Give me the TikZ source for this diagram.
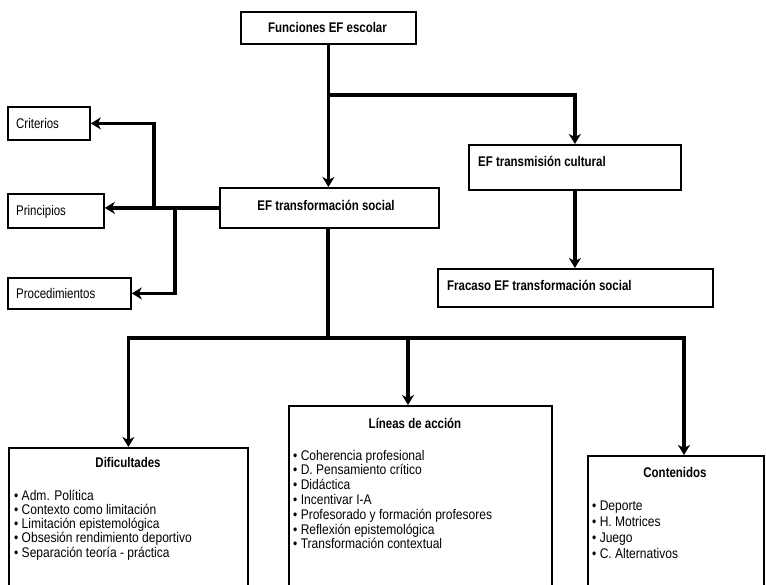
\documentclass[tikz,border=0pt]{standalone}
\usepackage{fontspec}
\setmainfont{Liberation Sans}[FakeStretch=0.82]
\newfontfamily\itemfont{Liberation Sans}[FakeStretch=0.86]
\usetikzlibrary{arrows.meta,calc}
\begin{document}
\begin{tikzpicture}[x=1pt,y=-1pt,
  every node/.style={font=\fontsize{14}{16}\selectfont},
  box/.style={draw=black,line width=1.8pt,fill=white,anchor=north west,inner sep=0pt},
  conn/.style={draw=black,line width=3.2pt,-{Stealth[length=10pt,width=12pt,inset=3pt]}},
  plain/.style={draw=black,line width=3.2pt},
  lbl/.style={inner sep=0pt,anchor=base west},
  itm/.style={inner sep=0pt,anchor=base west,font=\itemfont\fontsize{14}{16}\selectfont},
  ttl/.style={inner sep=0pt,anchor=base,font=\fontsize{14}{16}\selectfont\bfseries}]
\useasboundingbox (0,0) rectangle (766,584);
\clip (0,0) rectangle (766,584);

% boxes
\node[box,minimum width=175pt,minimum height=32pt] (fun) at (240,11) {};
\node[ttl] (funt) at (327.5,32) {Funciones EF escolar};

\node[box,minimum width=219pt,minimum height=40pt] (ets) at (219,187) {};
\node[ttl] (etst) at (326,210) {EF transformación social};

\node[box,minimum width=82pt,minimum height=33pt] (cri) at (7,106) {};
\node[lbl] (crit) at (16,128) {Criterios};
\node[box,minimum width=96pt,minimum height=34pt] (pri) at (7,193) {};
\node[lbl] (prit) at (16,215) {Principios};
\node[box,minimum width=123pt,minimum height=31pt] (pro) at (7,277) {};
\node[lbl] (prot) at (16,298) {Procedimientos};

\node[box,minimum width=212pt,minimum height=45pt] (tc) at (468,144) {};
\node[ttl,anchor=base west] (tct) at (478,166) {EF transmisión cultural};
\node[box,minimum width=275pt,minimum height=38pt] (fr) at (437,268) {};
\node[ttl,anchor=base west] (frt) at (447,290) {Fracaso EF transformación social};

\node[box,minimum width=239pt,minimum height=200pt] (dif) at (8,447) {};
\node[ttl] (dift) at (128,467.5) {Dificultades};
\foreach \t [count=\i] in {Adm. Política,Contexto como limitación,Limitación epistemológica,Obsesión rendimiento deportivo,Separación teoría - práctica}
  \node[itm] (d\i) at (14,{500+(\i-1)*14.3}) {• \t};

\node[box,minimum width=263pt,minimum height=220pt] (lin) at (288,405) {};
\node[ttl] (lint) at (415,428.5) {Líneas de acción};
\foreach \t [count=\i] in {Coherencia profesional,D. Pensamiento crítico,Didáctica,Incentivar I-A,Profesorado y formación profesores,Reflexión epistemológica,Transformación contextual}
  \node[itm] (l\i) at (293,{460+(\i-1)*14.8}) {• \t};

\node[box,minimum width=176pt,minimum height=200pt] (con) at (587,455) {};
\node[ttl] (cont) at (675,477) {Contenidos};
\foreach \t [count=\i] in {Deporte,H. Motrices,Juego,C. Alternativos}
  \node[itm] (c\i) at (592,{510+(\i-1)*16}) {• \t};

% connectors
\coordinate (j1) at (327.5,95);
\draw[conn] (fun.south) -- (fun.south |- ets.north);
\draw[conn] (j1) -| (tc.north);
\draw[conn] (tc.south) -- (tc.south |- fr.north);

\coordinate (ju) at (154,210);
\coordinate (jd) at (175,210);
\draw[conn] (ets.west) -- (ets.west -| pri.east);
\draw[conn] (ju) |- (cri.east);
\draw[conn] (jd) |- (pro.east);

\coordinate (b) at (328,338);
\coordinate (lt) at (408,405);
\coordinate (ct) at (684,455);
\draw[plain] (ets.south -| b) -- (b);
\draw[conn] (b) -| (dif.north);
\draw[conn] (b) -| (lt);
\draw[conn] (b) -| (ct);
\end{tikzpicture}
\end{document}
